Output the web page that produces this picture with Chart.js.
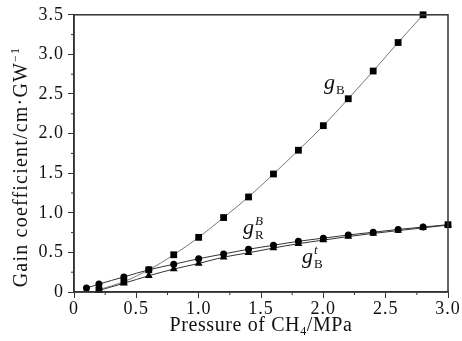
<!DOCTYPE html>
<html><head><meta charset="utf-8">
<script src="https://cdn.jsdelivr.net/npm/chart.js@4"></script>
<style>html,body{margin:0;padding:0;background:#fff;overflow:hidden}</style>
</head><body>
<canvas id="c" width="462" height="341"></canvas>
<script>
// ---- data ----
const pressureB  = [0.2, 0.4, 0.6, 0.8, 1.0, 1.2, 1.4, 1.6, 1.8, 2.0, 2.2, 2.4, 2.6, 2.8];
const gainB      = [0.03, 0.13, 0.28, 0.47, 0.69, 0.94, 1.20, 1.49, 1.79, 2.10, 2.44, 2.79, 3.15, 3.50];
const pressureR  = [0.1, 0.2, 0.4, 0.6, 0.8, 1.0, 1.2, 1.4, 1.6, 1.8, 2.0, 2.2, 2.4, 2.6, 2.8, 3.0];
const gainR      = [0.05, 0.10, 0.19, 0.28, 0.35, 0.42, 0.48, 0.54, 0.59, 0.64, 0.68, 0.72, 0.755, 0.79, 0.82, 0.85];
const pressureBt = [0.2, 0.4, 0.6, 0.8, 1.0, 1.2, 1.4, 1.6, 1.8, 2.0, 2.2, 2.4, 2.6, 2.8, 3.0];
const gainBt     = [0.02, 0.11, 0.205, 0.29, 0.36, 0.44, 0.495, 0.555, 0.61, 0.655, 0.70, 0.74, 0.775, 0.81, 0.845];
const xTicks = [0, 0.5, 1.0, 1.5, 2.0, 2.5, 3.0];
const yTicks = [0, 0.5, 1.0, 1.5, 2.0, 2.5, 3.0, 3.5];
const xTitle = ['Pressure of CH', '4', '/MPa'];
const yTitle = ['Gain coefficient/cm\u00B7GW', '\u22121'];

const pts = (xs, ys) => xs.map((x, i) => ({x: x, y: ys[i]}));
const SERIF = '"Liberation Serif", "DejaVu Serif", serif';
const INK = '#111';

const rPointStyles = pressureR.map((p, i) => i === pressureR.length - 1 ? 'rect' : 'circle');
const rPointRadius = pressureR.map((p, i) => i === pressureR.length - 1 ? 4.8 : 3.5);

const decor = {
  id: 'decor',
  beforeDraw(chart) { chart.ctx.letterSpacing = '1px'; },
  afterDraw(chart) {
    const ctx = chart.ctx, a = chart.chartArea;
    const xs = chart.scales.x, ys = chart.scales.y;
    ctx.save();
    // frame
    ctx.strokeStyle = '#333'; ctx.lineWidth = 1.5;
    ctx.strokeRect(a.left, a.top, a.right - a.left, a.bottom - a.top);
    // minor ticks
    ctx.lineWidth = 1;
    for (let i = 0; i < xTicks.length - 1; i++) {
      const v = (xTicks[i] + xTicks[i + 1]) / 2, px = xs.getPixelForValue(v);
      ctx.beginPath(); ctx.moveTo(px, a.bottom); ctx.lineTo(px, a.bottom + 3); ctx.stroke();
    }
    for (let i = 0; i < yTicks.length - 1; i++) {
      const v = (yTicks[i] + yTicks[i + 1]) / 2, py = ys.getPixelForValue(v);
      ctx.beginPath(); ctx.moveTo(a.left, py); ctx.lineTo(a.left - 3, py); ctx.stroke();
    }
    ctx.fillStyle = INK;
    // x title
    ctx.textBaseline = 'alphabetic';
    ctx.letterSpacing = '0.6px';
    const big = '20px ' + SERIF, small = '12px ' + SERIF;
    ctx.font = big; const w1 = ctx.measureText(xTitle[0]).width, w3 = ctx.measureText(xTitle[2]).width;
    ctx.font = small; const w2 = ctx.measureText(xTitle[1]).width;
    let x0 = (a.left + a.right) / 2 - (w1 + w2 + w3) / 2, yb = 331;
    ctx.textAlign = 'left';
    ctx.font = big; ctx.fillText(xTitle[0], x0, yb);
    ctx.font = small; ctx.fillText(xTitle[1], x0 + w1, yb + 4);
    ctx.font = big; ctx.fillText(xTitle[2], x0 + w1 + w2, yb);
    // y title
    ctx.save();
    ctx.translate(27, 167); ctx.rotate(-Math.PI / 2);
    ctx.letterSpacing = '1.2px';
    ctx.font = big; const v1 = ctx.measureText(yTitle[0]).width;
    ctx.font = small; const v2 = ctx.measureText(yTitle[1]).width;
    let s = -(v1 + v2) / 2;
    ctx.font = big; ctx.fillText(yTitle[0], s, 0);
    ctx.font = small; ctx.fillText(yTitle[1], s + v1, -8);
    ctx.restore();
    ctx.letterSpacing = '0px';
    // curve labels
    const lab = (x, y, sup, sub) => {
      ctx.font = 'italic 22px ' + SERIF; ctx.fillText('g', x, y);
      const gw = ctx.measureText('g').width;
      if (sup) { ctx.font = 'italic 13px ' + SERIF; ctx.fillText(sup, x + gw + 1, y - 9); }
      if (sub) { ctx.font = '13px ' + SERIF; ctx.fillText(sub, x + gw + 1, y + 5); }
    };
    lab(324, 89, null, 'B');
    lab(243, 234, 'B', 'R');
    lab(302, 263, 't', 'B');
    ctx.restore();
    ctx.letterSpacing = '0px';
  }
};

new Chart(document.getElementById('c'), {
  type: 'scatter',
  data: {
    datasets: [
      { label: 'gB', data: pts(pressureB, gainB), showLine: true, borderColor: '#777', borderWidth: 1,
        tension: 0.4, cubicInterpolationMode: 'monotone', pointStyle: 'rect', pointRadius: 4.8,
        pointBackgroundColor: '#000', pointBorderColor: '#000', pointBorderWidth: 0, clip: false, order: 0 },
      { label: 'gRB', data: pts(pressureR, gainR), showLine: true, borderColor: '#333', borderWidth: 1,
        cubicInterpolationMode: 'monotone', pointStyle: rPointStyles, pointRadius: rPointRadius,
        pointBackgroundColor: '#000', pointBorderColor: '#000', pointBorderWidth: 0, clip: false, order: 1 },
      { label: 'gBt', data: pts(pressureBt, gainBt), showLine: true, borderColor: '#333', borderWidth: 1,
        cubicInterpolationMode: 'monotone', pointStyle: 'triangle', pointRadius: 4.5,
        pointBackgroundColor: '#000', pointBorderColor: '#000', pointBorderWidth: 0, clip: false, order: 2 }
    ]
  },
  options: {
    responsive: false, animation: false,
    layout: { padding: { left: 0, top: 14, right: 14, bottom: 0 } },
    plugins: { legend: { display: false }, tooltip: { enabled: false } },
    scales: {
      x: {
        type: 'linear', min: 0, max: 3, afterFit: s => { s.height = 49; },
        afterBuildTicks: s => { s.ticks = xTicks.map(v => ({value: v})); },
        ticks: { font: { family: SERIF, size: 18 }, color: INK, padding: 0,
                 callback: v => v === 0 ? '0' : v.toFixed(1), maxRotation: 0 },
        grid: { drawOnChartArea: false, drawTicks: true, tickLength: 6, color: '#333', lineWidth: 1 },
        border: { display: true, color: '#333', width: 1.5 }
      },
      y: {
        type: 'linear', min: 0, max: 3.5, afterFit: s => { s.width = 74; },
        afterBuildTicks: s => { s.ticks = yTicks.map(v => ({value: v})); },
        ticks: { font: { family: SERIF, size: 18 }, color: INK, padding: 4,
                 callback: v => v === 0 ? '0' : v.toFixed(1) },
        grid: { drawOnChartArea: false, drawTicks: true, tickLength: 6, color: '#333', lineWidth: 1 },
        border: { display: true, color: '#333', width: 1.5 }
      }
    }
  },
  plugins: [decor]
});
</script>
</body></html>
